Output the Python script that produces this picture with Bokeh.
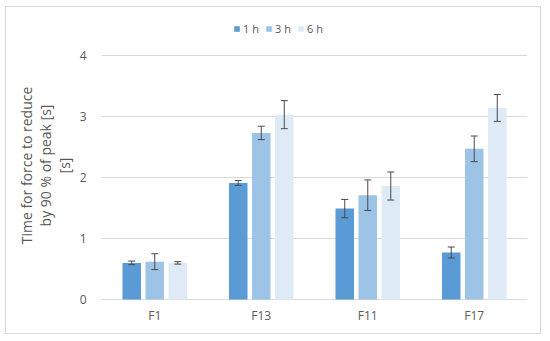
from bokeh.plotting import figure
from bokeh.models import (ColumnDataSource, Whisker, TeeHead, Legend, LegendItem,
                          FixedTicker)
from bokeh.transform import dodge
from bokeh.embed import file_html
from bokeh.resources import INLINE

# ---- data ----
categories = ["F1", "F13", "F11", "F17"]
series_names = ["1 h", "3 h", "6 h"]
h1 = [0.60, 1.91, 1.49, 0.77]
h1_err = [0.03, 0.04, 0.15, 0.09]
h3 = [0.62, 2.73, 1.71, 2.47]
h3_err = [0.13, 0.11, 0.25, 0.21]
h6 = [0.60, 3.03, 1.86, 3.14]
h6_err = [0.02, 0.23, 0.23, 0.22]
y_ticks = [0, 1, 2, 3, 4]

colors = ["#5B9BD5", "#9DC3E6", "#DEEBF7"]
FONT = "Open Sans"
TXT = "#595959"

data = dict(cats=categories, h1=h1, h3=h3, h6=h6)
for name, v, e in (("h1", h1, h1_err), ("h3", h3, h3_err), ("h6", h6, h6_err)):
    data[name + "_u"] = [a + b for a, b in zip(v, e)]
    data[name + "_l"] = [a - b for a, b in zip(v, e)]
src = ColumnDataSource(data)

p = figure(x_range=categories, y_range=(-0.246, 4.639), width=536, height=328,
           output_backend="svg", toolbar_location=None,
           min_border_left=95, min_border_right=15, min_border_top=9,
           min_border_bottom=21)
p.styles = {"border": "1px solid #D9D9D9", "box-sizing": "border-box",
            "margin-left": "5px", "margin-top": "6px"}

offsets = [-0.216, 0.0, 0.216]
keys = ["h1", "h3", "h6"]
renderers = []
for k, off, col in zip(keys, offsets, colors):
    r = p.vbar(x=dodge("cats", off, range=p.x_range), top=k, bottom=0,
               width=0.174, source=src, fill_color=col, line_color=None)
    renderers.append(r)
for k, off in zip(keys, offsets):
    w = Whisker(base=dodge("cats", off, range=p.x_range), upper=k + "_u",
                lower=k + "_l", source=src, line_color="#4a4a4a", line_width=1,
                level="overlay",
                upper_head=TeeHead(size=7, line_color="#4a4a4a", line_width=1),
                lower_head=TeeHead(size=7, line_color="#4a4a4a", line_width=1))
    p.add_layout(w)

legend = Legend(items=[LegendItem(label=n, renderers=[r])
                       for n, r in zip(series_names, renderers)],
                orientation="horizontal", location=(132, 278),
                glyph_width=7, glyph_height=7, label_standoff=3, spacing=2,
                padding=0, margin=0, border_line_alpha=0,
                background_fill_alpha=0, label_text_font=FONT,
                label_text_font_size="11px", label_text_color=TXT,
                label_height=12)
p.add_layout(legend, "center")

p.outline_line_color = None
p.xgrid.grid_line_color = None
p.ygrid.grid_line_color = "#D9D9D9"
p.ygrid.grid_line_width = 1
p.yaxis.ticker = FixedTicker(ticks=y_ticks)

p.yaxis.axis_line_color = None
p.yaxis.major_tick_line_color = None
p.yaxis.minor_tick_line_color = None
p.yaxis.major_label_standoff = 9
p.yaxis.major_label_text_font = FONT
p.yaxis.major_label_text_font_size = "12px"
p.yaxis.major_label_text_color = TXT
p.yaxis.axis_label = "Time for force to reduce\nby 90 % of peak [s]\n[s]"
p.yaxis.axis_label_text_font = FONT
p.yaxis.axis_label_text_font_size = "14px"
p.yaxis.axis_label_text_font_style = "normal"
p.yaxis.axis_label_text_color = TXT
p.yaxis.axis_label_text_line_height = 1.0
p.yaxis.axis_label_standoff = 3

p.xaxis.axis_line_color = None
p.xaxis.major_tick_line_color = None
p.xaxis.minor_tick_line_color = None
p.xaxis.major_label_standoff = -14
p.xaxis.major_label_text_font = FONT
p.xaxis.major_label_text_font_size = "12px"
p.xaxis.major_label_text_color = TXT

open("out.html", "w").write(file_html(p, INLINE))
